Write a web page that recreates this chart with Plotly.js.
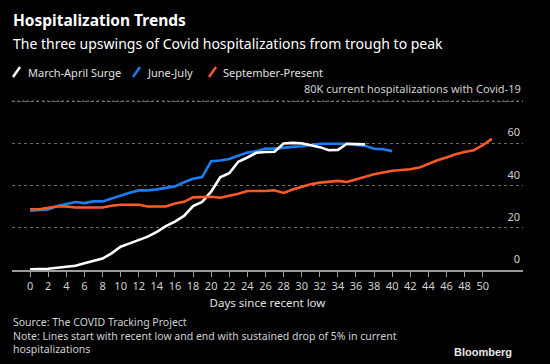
<!DOCTYPE html>
<html>
<head>
<meta charset="utf-8">
<script src="https://cdn.plot.ly/plotly-3.0.1.min.js"></script>
<style>html,body{margin:0;padding:0;background:#000;}#chart{width:550px;height:364px;}</style>
</head>
<body>
<div id="chart"></div>
<script>
// Days since recent low
const daysMarch = [0,1,2,3,4,5,6,7,8,9,10,11,12,13,14,15,16,17,18,19,20,21,22,23,24,25,26,27,28,29,30,31,32,33,34,35,36,37];
const marchApril = [0.3,0.4,0.6,1.1,1.7,2.0,3.2,4.3,5.4,7.9,11.0,12.6,14.2,15.8,18.1,20.8,22.9,25.6,30.3,32.3,37.1,43.9,45.8,51.3,53.3,55.5,55.9,56.0,59.9,60.2,60.0,59.1,58.2,56.7,56.9,59.8,59.8,59.5];

const daysJune = [0,1,2,3,4,5,6,7,8,9,10,11,12,13,14,15,16,17,18,19,20,21,22,23,24,25,26,27,28,29,30,31,32,33,34,35,36,37,38,39,40];
const juneJuly = [28.1,28.4,28.7,30.3,31.1,32.2,31.7,32.5,32.5,33.9,35.5,36.6,37.7,37.7,38.2,38.8,39.6,41.6,43.2,44.0,51.5,51.9,52.6,54.1,55.6,56.3,57.5,57.5,58.0,58.3,58.6,59.2,59.8,59.8,59.8,59.8,59.2,58.9,57.4,57.2,56.3];

const daysSept = [0,1,2,3,4,5,6,7,8,9,10,11,12,13,14,15,16,17,18,19,20,21,22,23,24,25,26,27,28,29,30,31,32,33,34,35,36,37,38,39,40,41,42,43,44,45,46,47,48,49,50,51];
const septPresent = [28.8,28.8,29.5,30.1,30.1,29.6,29.6,29.6,29.6,30.4,30.9,30.9,30.9,30.1,30.1,30.1,31.5,32.3,34.4,34.7,34.7,34.2,35.1,36.1,37.4,37.4,37.4,37.8,36.5,38.1,39.5,40.6,41.4,41.7,42.2,41.7,43.0,44.4,45.4,46.2,47.0,47.4,47.7,48.5,50.4,52.0,53.3,54.8,55.9,56.7,59.1,62.1];

const seriesNames = ["March-April Surge", "June-July", "September-Present"];
const seriesColors = ["#ffffff", "#1a7df2", "#ff5a26"];

const xTicks = [0,2,4,6,8,10,12,14,16,18,20,22,24,26,28,30,32,34,36,38,40,42,44,46,48,50];
const xRange = [-2, 54.45];
const yTicks = [0,20,40,60,80];
const yTickText = ["0","20","40","60",""];
const unitLabel = "80K current hospitalizations with Covid-19";
const unitValue = 80;

const W = 550, H = 364;
const L = 12, R = 523, T = 99, B = 270;
const px = x => (x - L) / (R - L);
const py = y => (B - y) / (B - T);

const traces = [
  {x: daysJune, y: juneJuly, name: seriesNames[1], color: seriesColors[1]},
  {x: daysMarch, y: marchApril, name: seriesNames[0], color: seriesColors[0]},
  {x: daysSept, y: septPresent, name: seriesNames[2], color: seriesColors[2]}
].map(s => ({
  x: s.x, y: s.y, name: s.name, type: 'scatter', mode: 'lines',
  line: {color: s.color, width: 2.6, shape: 'linear'},
  showlegend: false, hoverinfo: 'skip', cliponaxis: false
}));

const font = "Noto Sans, Open Sans, sans-serif";

const annotations = [
  {text: "<b>Hospitalization Trends</b>", x: px(11), y: py(20), xanchor: 'left', yanchor: 'middle', font: {size: 15.5, color: '#ffffff', family: font}},
  {text: "The three upswings of Covid hospitalizations from trough to peak", x: px(11), y: py(44), xanchor: 'left', yanchor: 'middle', font: {size: 14, color: '#ffffff', family: font}},
  {text: seriesNames[0], x: px(26), y: py(72), xanchor: 'left', yanchor: 'middle', font: {size: 11, color: '#e0e0e0', family: font}},
  {text: seriesNames[1], x: px(145), y: py(72), xanchor: 'left', yanchor: 'middle', font: {size: 11, color: '#e0e0e0', family: font}},
  {text: seriesNames[2], x: px(221), y: py(72), xanchor: 'left', yanchor: 'middle', font: {size: 11, color: '#e0e0e0', family: font}},
  {text: "Source: The COVID Tracking Project<br>Note: Lines start with recent low and end with sustained drop of 5% in current<br>hospitalizations", x: px(11), y: py(313), xanchor: 'left', yanchor: 'top', align: 'left', font: {size: 10.5, color: '#d0d0d0', family: font}},
  {text: "<b>Bloomberg</b>", x: px(514), y: py(352), xanchor: 'right', yanchor: 'middle', font: {size: 11, color: '#e8e8e8', family: "Liberation Sans, Arial, sans-serif"}},
  {text: unitLabel, xref: 'paper', yref: 'y', x: 1, y: unitValue, xanchor: 'right', yanchor: 'bottom', yshift: 3, font: {size: 11, color: '#d0d0d0', family: font}}
].map(a => Object.assign({xref: 'paper', yref: 'paper', showarrow: false}, a));

const shapes = [[13, seriesColors[0]], [133, seriesColors[1]], [209, seriesColors[2]]].map(([x0, c]) => ({
  type: 'line', xref: 'paper', yref: 'paper',
  x0: px(x0), y0: py(77), x1: px(x0 + 7), y1: py(67),
  line: {color: c, width: 2.5}
}));
// top (80K) gridline, placed through the y axis
shapes.push({type: 'line', xref: 'paper', yref: 'y', x0: 0, x1: 1, y0: unitValue, y1: unitValue,
  line: {color: '#7a7a7a', width: 1.2, dash: '2px,3px'}});

const layout = {
  width: W, height: H,
  paper_bgcolor: '#000000', plot_bgcolor: '#000000',
  margin: {l: L, r: W - R, t: T, b: H - B},
  showlegend: false,
  font: {family: font, color: '#cccccc', size: 11},
  xaxis: {
    range: xRange, tickvals: xTicks, ticks: 'outside', ticklen: 5, tickwidth: 1, tickcolor: '#9a9a9a',
    showline: true, linecolor: '#9a9a9a', linewidth: 2, showgrid: false, zeroline: false,
    tickfont: {size: 11, color: '#d0d0d0'},
    title: {text: 'Days since recent low', font: {size: 11.5, color: '#e0e0e0'}, standoff: 7}
  },
  yaxis: {
    range: [0, 81], side: 'right', tickvals: yTicks, ticktext: yTickText,
    ticklabelposition: 'inside top', ticklabelshift: -3,
    showgrid: true, gridcolor: '#6a6a6a', griddash: 'dot', gridwidth: 1,
    zeroline: false, showline: false, ticks: '',
    tickfont: {size: 11, color: '#d0d0d0'}
  },
  annotations: annotations,
  shapes: shapes
};

Plotly.newPlot('chart', traces, layout, {displayModeBar: false, staticPlot: true});
</script>
</body>
</html>
